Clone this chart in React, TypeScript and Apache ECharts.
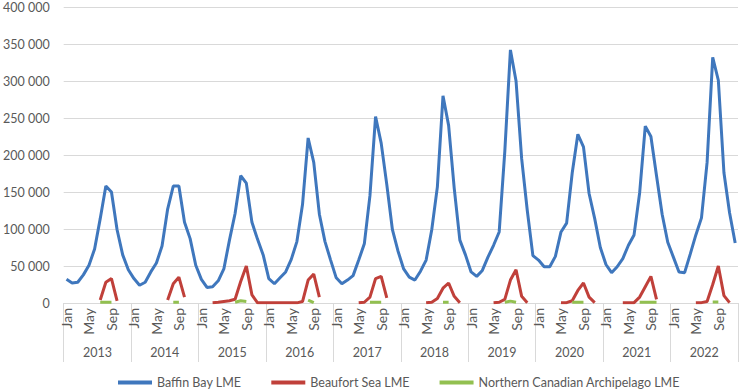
import React, { useEffect, useRef } from "react";
import * as echarts from "echarts";

const monthNames = ["Jan", "Feb", "Mar", "Apr", "May", "Jun", "Jul", "Aug", "Sep", "Oct", "Nov", "Dec"];
const years = ["2013", "2014", "2015", "2016", "2017", "2018", "2019", "2020", "2021", "2022"];
const yTicks = [0, 50000, 100000, 150000, 200000, 250000, 300000, 350000, 400000];

// Baffin Bay LME, one row per year (Jan..Dec)
const baffinBay = [
  32000, 27000, 28000, 38000, 51000, 73000, 114000, 158000, 150000, 99000, 65000, 45000,
  33000, 24000, 28000, 42000, 54000, 77000, 127000, 158000, 158000, 109000, 87000, 51000,
  32000, 21000, 22000, 30000, 46000, 85000, 121000, 172000, 162000, 109000, 86000, 65000,
  33000, 26000, 34000, 42000, 59000, 83000, 133000, 223000, 190000, 120000, 83000, 58000,
  34000, 26000, 31000, 37000, 58000, 80000, 145000, 252000, 216000, 160000, 99000, 70000,
  46000, 35000, 31000, 43000, 58000, 99000, 157000, 280000, 240000, 155000, 85000, 65000,
  42000, 36000, 44000, 62000, 78000, 96000, 205000, 342000, 300000, 195000, 125000, 64000,
  58000, 49000, 49000, 63000, 96000, 108000, 176000, 228000, 211000, 148000, 114000, 75000,
  52000, 41000, 49000, 60000, 78000, 92000, 149000, 239000, 225000, 172000, 120000, 82000,
  62000, 42000, 41000, 66000, 92000, 115000, 190000, 332000, 301000, 176000, 122000, 81000,
];

// Beaufort Sea LME
const beaufortSea = [
  null, null, null, null, null, null, 4000, 28000, 33000, 3000, null, null,
  null, null, null, null, null, null, 4000, 26000, 35000, 8000, null, null,
  null, null, 500, 1000, 2000, 3000, 5000, 29000, 50000, 11000, 300, 200,
  200, 200, 200, 200, 200, 200, 2000, 31000, 39000, 8000, null, null,
  null, null, null, null, 300, 1000, 8000, 33000, 36000, 7000, null, null,
  null, null, null, null, 300, 1000, 6000, 20000, 27000, 9000, 500, null,
  null, null, null, null, 300, 1000, 5000, 31000, 45000, 9000, 500, null,
  null, null, null, null, 300, 500, 3000, 17000, 27000, 8000, 500, null,
  null, null, null, 200, 300, 500, 8000, 22000, 36000, 5000, null, null,
  null, null, null, null, 200, 500, 2000, 25000, 50000, 10000, 500, null,
];

// Northern Canadian Archipelago LME
const northernArchipelago = [
  null, null, null, null, null, null, 1000, 1000, 1000, null, null, null,
  null, null, null, null, null, null, null, 1000, 1000, null, null, null,
  null, null, null, null, null, null, 1000, 3000, 2000, null, null, null,
  null, null, null, null, null, null, null, 4000, 500, null, null, null,
  null, null, null, null, null, null, 1000, 1000, 1000, null, null, null,
  null, null, null, null, null, null, null, 1000, 1000, null, null, null,
  null, null, null, null, null, null, 1000, 2500, 1000, null, null, null,
  null, null, null, null, null, null, 1000, 1000, 1000, null, null, null,
  null, null, null, null, null, null, 1000, 1000, 1000, 1000, null, null,
  null, null, null, null, null, null, null, 1500, 1500, null, null, null,
];

const categories: string[] = [];
years.forEach((y) => monthNames.forEach((m) => categories.push(m + " " + y)));

const FONT = "Lato";
const TEXT = "#595959";
const GRID = "#D9D9D9";

export default function App() {
  const ref = useRef<HTMLDivElement>(null);
  useEffect(() => {
    if (!ref.current) return;
    const chart = echarts.init(ref.current, undefined, { renderer: "svg" });
    const fmt = (v: number) => String(v).replace(/\B(?=(\d{3})+(?!\d))/g, " ");
    chart.setOption({
      animation: false,
      backgroundColor: "#ffffff",
      textStyle: { fontFamily: FONT },
      grid: { left: 61, right: 4, top: 7, bottom: 89, containLabel: false },
      legend: {
        left: 118,
        top: 376,
        padding: 0,
        icon: "rect",
        itemWidth: 34,
        itemHeight: 4,
        itemGap: 30,
        textStyle: { fontFamily: FONT, fontSize: 12.5, color: TEXT },
        data: ["Baffin Bay LME", "Beaufort Sea LME", "Northern Canadian Archipelago LME"],
      },
      xAxis: [
        {
          type: "category",
          data: categories,
          boundaryGap: true,
          position: "bottom",
          axisLine: { show: true, lineStyle: { color: GRID, width: 1 } },
          axisTick: { show: false },
          splitLine: { show: false },
          axisLabel: {
            interval: (i: number) => i % 4 === 0,
            rotate: 90,
            margin: 5,
            fontFamily: FONT,
            fontSize: 14,
            color: TEXT,
            formatter: (v: string) => v.split(" ")[0],
          },
        },
        {
          type: "category",
          data: years,
          boundaryGap: true,
          position: "bottom",
          axisLine: { show: false },
          axisTick: { show: true, interval: 0, length: 59, lineStyle: { color: GRID, width: 1 } },
          splitLine: { show: false },
          axisLabel: {
            interval: 0,
            margin: 43,
            fontFamily: FONT,
            fontSize: 12.5,
            color: TEXT,
          },
        },
      ],
      yAxis: {
        type: "value",
        min: yTicks[0],
        max: yTicks[yTicks.length - 1],
        interval: yTicks[1] - yTicks[0],
        axisLine: { show: false },
        axisTick: { show: false },
        splitLine: { show: true, lineStyle: { color: GRID, width: 1 } },
        axisLabel: { margin: 14, fontFamily: FONT, fontSize: 12.5, color: TEXT, formatter: fmt },
      },
      series: [
        {
          name: "Baffin Bay LME",
          type: "line",
          xAxisIndex: 0,
          data: baffinBay,
          symbol: "none",
          lineStyle: { color: "#3F77BD", width: 3 },
          itemStyle: { color: "#3F77BD" },
        },
        {
          name: "Beaufort Sea LME",
          type: "line",
          xAxisIndex: 0,
          data: beaufortSea,
          symbol: "none",
          connectNulls: false,
          lineStyle: { color: "#C0403A", width: 3 },
          itemStyle: { color: "#C0403A" },
        },
        {
          name: "Northern Canadian Archipelago LME",
          type: "line",
          xAxisIndex: 0,
          data: northernArchipelago,
          symbol: "none",
          connectNulls: false,
          lineStyle: { color: "#92C050", width: 3 },
          itemStyle: { color: "#92C050" },
        },
      ],
    });
    return () => chart.dispose();
  }, []);
  return <div ref={ref} style={{ position: "fixed", left: 0, top: 0, width: 742, height: 392 }} />;
}
